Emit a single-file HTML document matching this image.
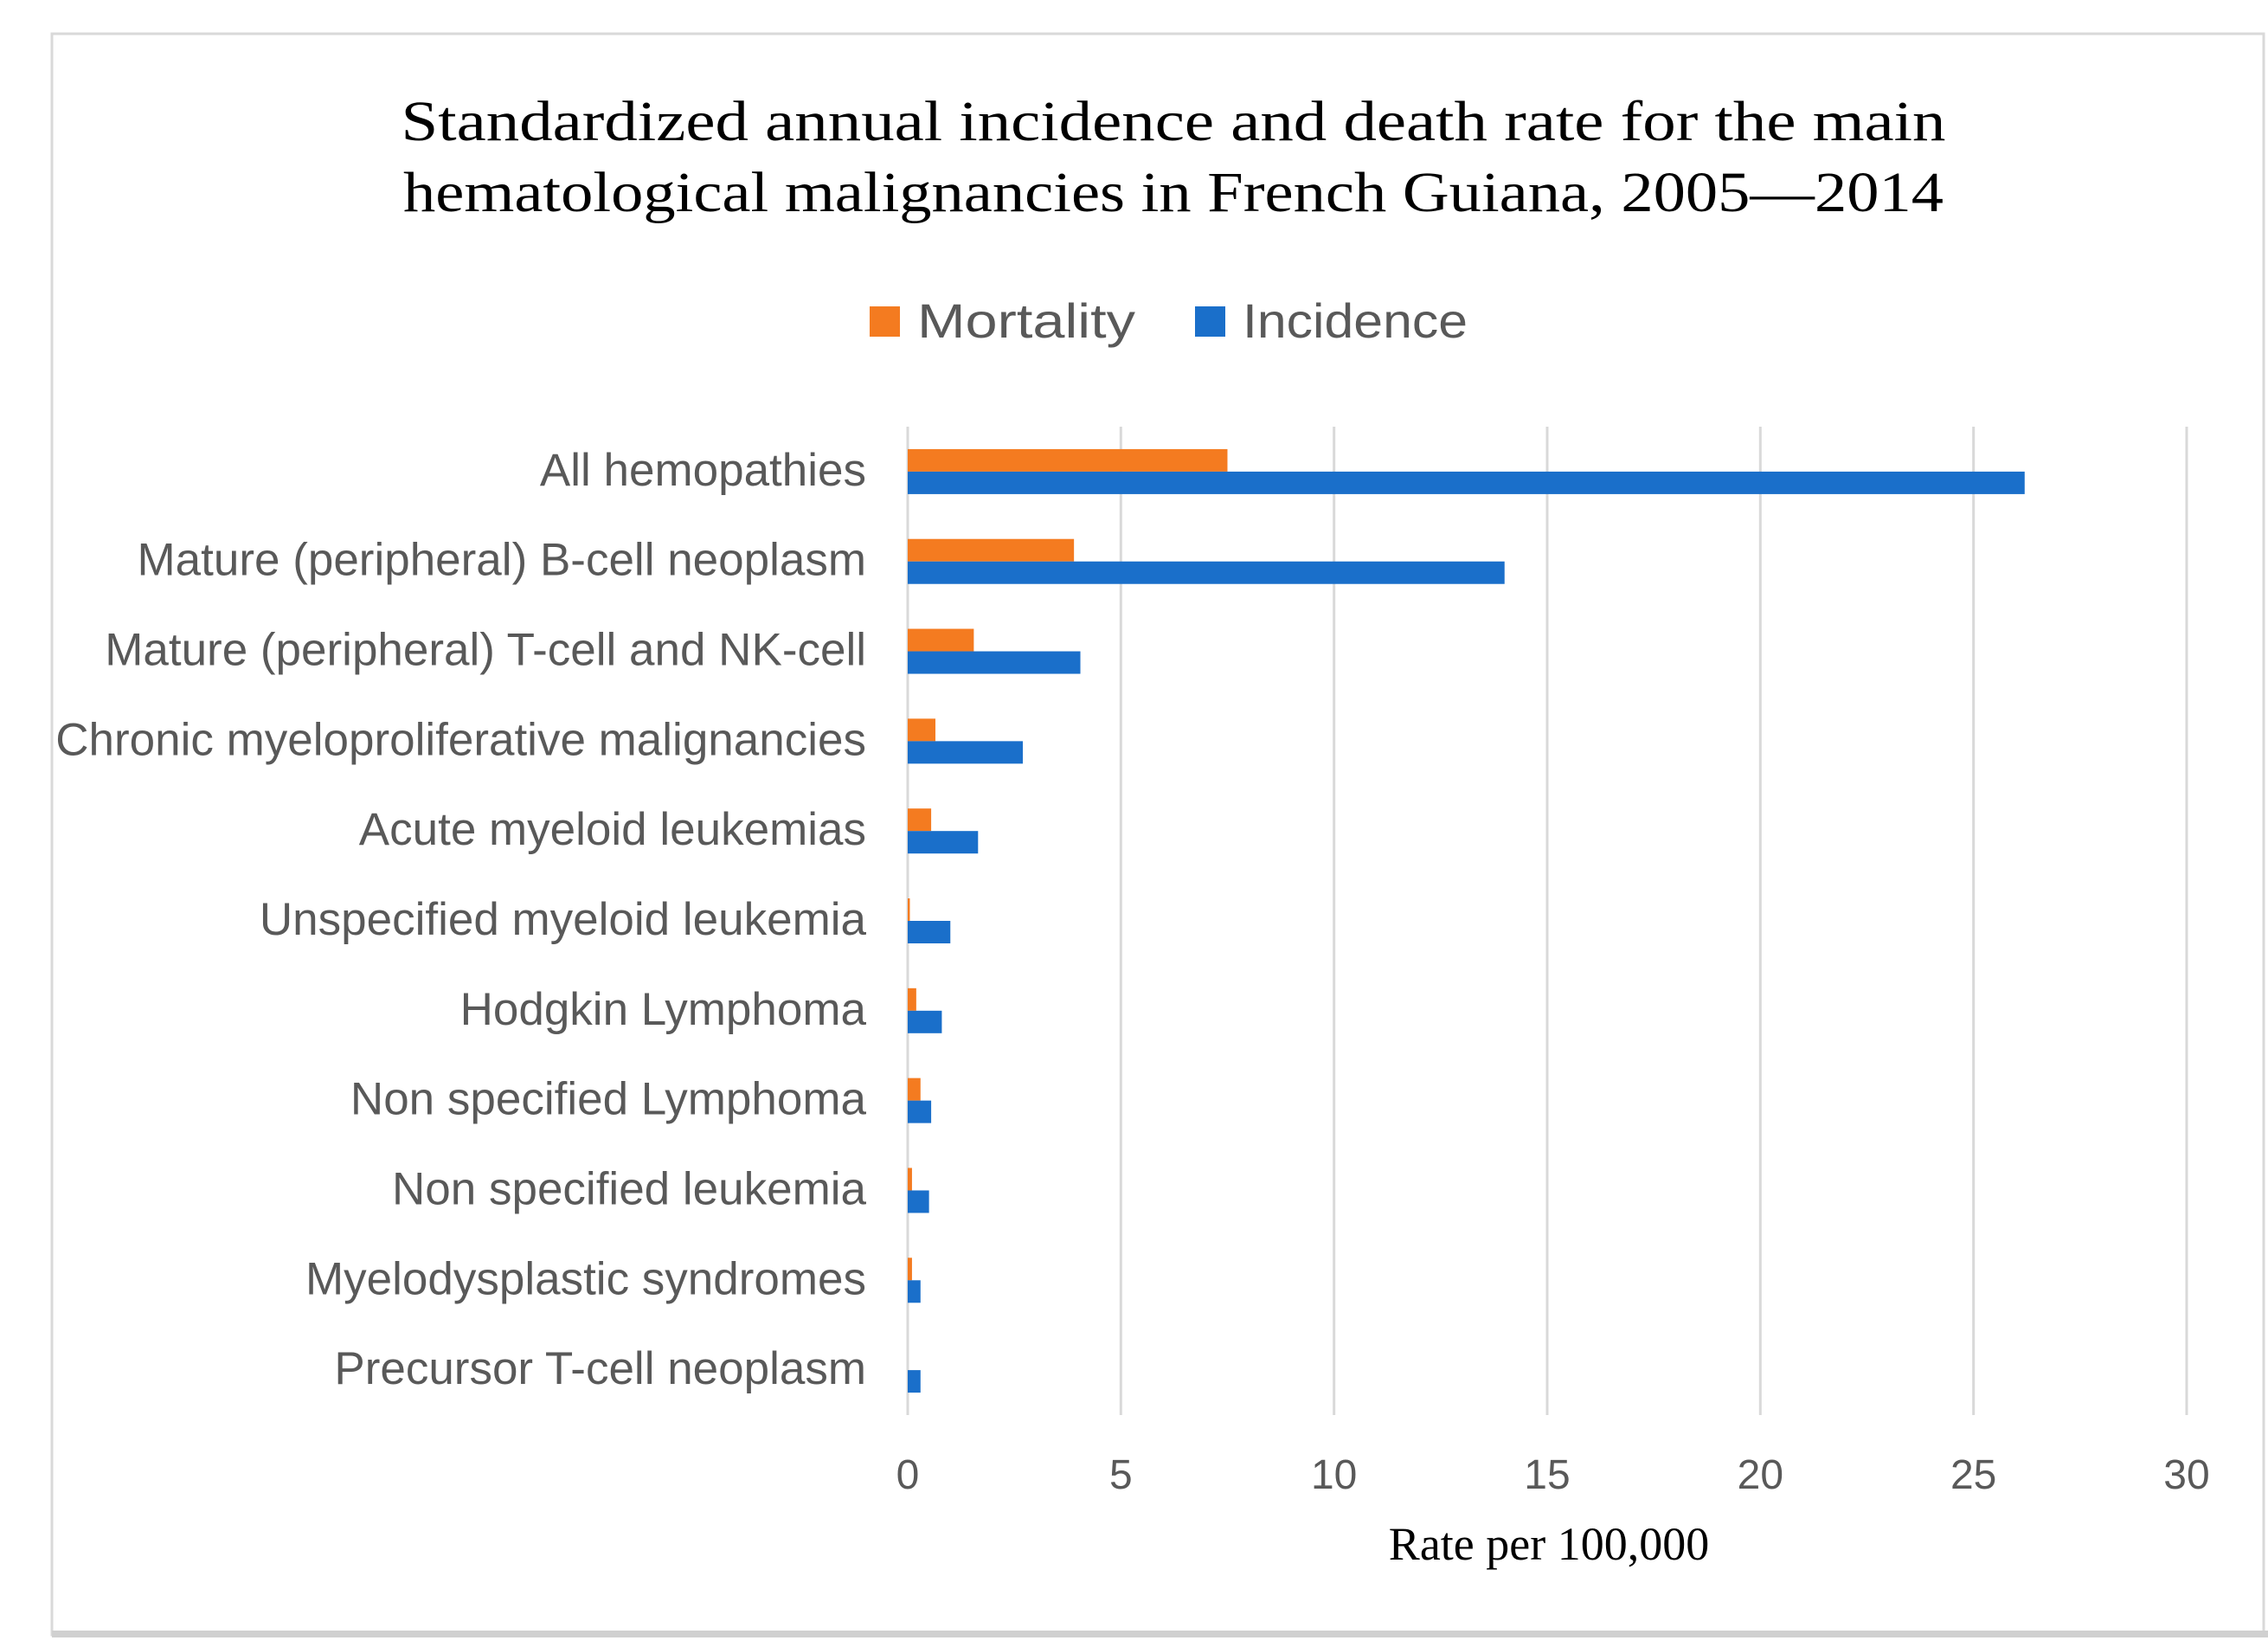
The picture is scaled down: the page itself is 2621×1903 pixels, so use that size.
<!DOCTYPE html>
<html><head><meta charset="utf-8"><style>
html,body{margin:0;padding:0;background:#fff;}
svg{display:block;}
</style></head><body>
<svg width="2621" height="1903" viewBox="0 0 2621 1903" xmlns="http://www.w3.org/2000/svg">
<rect x="0" y="0" width="2621" height="1903" fill="#fff"/>
<rect x="60" y="39" width="2556" height="1850" fill="none" stroke="#d9d9d9" stroke-width="3"/>
<line x1="60" y1="1888" x2="2621" y2="1888" stroke="#d0d0d0" stroke-width="8"/>
<g font-family="Liberation Serif, serif" font-size="66" fill="#000" text-anchor="middle">
<text x="1356" y="162" textLength="1785" lengthAdjust="spacingAndGlyphs">Standardized annual incidence and death rate for the main</text>
<text x="1356" y="244" textLength="1780" lengthAdjust="spacingAndGlyphs">hematological malignancies in French Guiana, 2005—2014</text>
</g>
<g font-family="Liberation Sans, sans-serif" font-size="56" fill="#595959">
<rect x="1005" y="354" width="35" height="35" fill="#f47b20"/>
<text x="1060" y="390" textLength="252" lengthAdjust="spacingAndGlyphs">Mortality</text>
<rect x="1381" y="354" width="35" height="35" fill="#1a6fca"/>
<text x="1436" y="390" textLength="260" lengthAdjust="spacingAndGlyphs">Incidence</text>
</g>
<g id="grid"></g>
<g id="bars"></g>
<g id="labels"></g>
<text x="1790" y="1802" text-anchor="middle" font-family="Liberation Serif, serif" font-size="54" fill="#000">Rate per 100,000</text>
</svg>
<script>
const categories = ["All hemopathies","Mature (peripheral) B-cell neoplasm","Mature (peripheral) T-cell and NK-cell","Chronic myeloproliferative  malignancies","Acute myeloid leukemias","Unspecified myeloid leukemia","Hodgkin Lymphoma","Non specified Lymphoma","Non specified leukemia","Myelodysplastic syndromes","Precursor T-cell neoplasm"];
const mortality = [7.5, 3.9, 1.55, 0.65, 0.55, 0.05, 0.2, 0.3, 0.1, 0.1, 0];
const incidence = [26.2, 14.0, 4.05, 2.7, 1.65, 1.0, 0.8, 0.55, 0.5, 0.3, 0.3];
const ticks = [0, 5, 10, 15, 20, 25, 30];

const NS = "http://www.w3.org/2000/svg";
const x0 = 1049, x1 = 2527, yTop = 493, yBot = 1635;
const xs = v => x0 + (v / 30) * (x1 - x0);
const band = (yBot - yTop) / categories.length;
const yc = i => yTop + band * (i + 0.5);
const barH = 26;
function mk(tag, attrs, parent){const e=document.createElementNS(NS,tag);for(const k in attrs)e.setAttribute(k,attrs[k]);parent.appendChild(e);return e;}
const grid = document.getElementById('grid'), bars = document.getElementById('bars'), labels = document.getElementById('labels');
ticks.forEach(t => {
  const l = mk('line',{x1:xs(t),x2:xs(t),y1:yTop,y2:yBot,stroke:'#d9d9d9','stroke-width':3},grid);
  
  
  const tx = mk('text',{x:xs(t),y:1720,'text-anchor':'middle','font-family':'Liberation Sans, sans-serif','font-size':48,fill:'#595959'},grid);
  tx.textContent = t;
  
  
});
categories.forEach((c, i) => {
  const cy = yc(i);
  const m = mk('rect',{x:x0,y:cy-barH,width:Math.max(0,xs(mortality[i])-x0),height:barH,fill:'#f47b20'},bars);
  
  
  const b = mk('rect',{x:x0,y:cy,width:xs(incidence[i])-x0,height:barH,fill:'#1a6fca'},bars);
  
  
  const t = mk('text',{x:1001,y:cy+16,'text-anchor':'end','font-family':'Liberation Sans, sans-serif','font-size':53,fill:'#595959'},labels);
  t.textContent = c;
  
  
});
</script>
</body></html>
